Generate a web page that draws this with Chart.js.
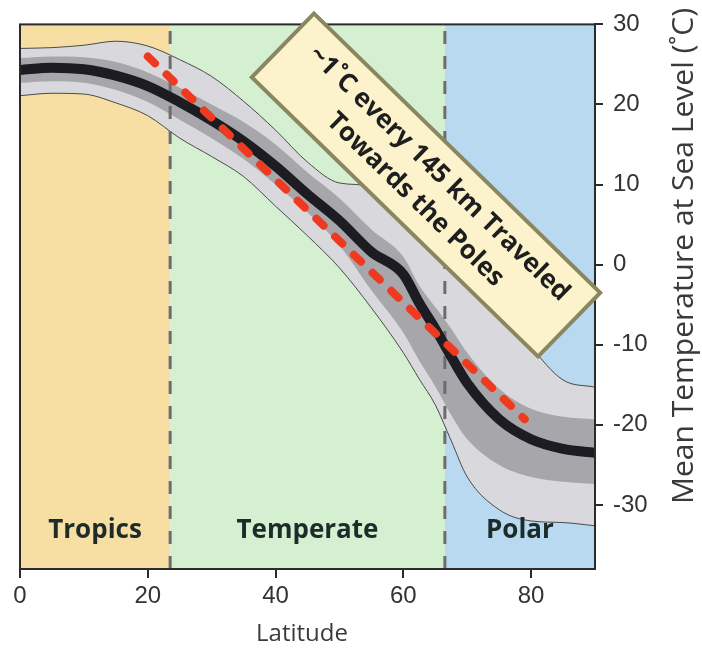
<!DOCTYPE html>
<html><head><meta charset="utf-8">
<script src="https://cdn.jsdelivr.net/npm/chart.js@4"></script>
<style>html,body{margin:0;padding:0;background:#fff}</style>
</head><body>
<canvas id="c" width="702" height="649"></canvas>
<script>
// ---- data ----
const latitudes  = [0, 5, 10, 15, 20, 25, 30, 35, 40, 45, 50, 55, 60, 62.5, 65, 67.5, 70, 75, 80, 85, 90];
const meanTemp   = [24.3, 24.6, 24.4, 23.6, 22.3, 20.3, 18.0, 15.4, 12.3, 8.8, 5.5, 1.6, -1.2, -4.8, -8.0, -11.5, -14.8, -19.3, -21.8, -23.0, -23.5];
const darkUpper  = [25.8, 26.0, 25.9, 25.3, 24.0, 22.1, 20.0, 17.8, 15.0, 11.5, 8.3, 4.4, 1.0, -2.6, -5.3, -8.0, -11.0, -15.5, -18.0, -19.0, -19.3];
const darkLower  = [22.7, 22.9, 22.7, 21.8, 20.3, 18.1, 15.8, 13.2, 10.0, 6.5, 2.4, -3.2, -8.5, -12.0, -15.2, -18.8, -21.8, -25.0, -26.5, -27.1, -27.4];
const lightUpper = [27.0, 27.1, 27.4, 27.9, 27.3, 25.6, 23.5, 20.4, 16.8, 12.8, 10.2, 9.8, 6.8, 4.7, 2.6, 0.5, -1.8, -5.5, -10.3, -14.4, -15.3];
const lightLower = [21.1, 21.4, 21.3, 20.2, 18.6, 15.8, 13.5, 11.0, 7.3, 3.6, -0.4, -5.4, -11.0, -14.3, -17.5, -22.0, -26.5, -30.6, -32.0, -32.2, -32.6];
const trendLat   = [20, 79];
const trendTemp  = [26.0, -19.3];
const zoneEdges  = [0, 23.5, 66.5, 90];
const zoneNames  = ['Tropics', 'Temperate', 'Polar'];
const xTicks     = [0, 20, 40, 60, 80];
const yTicks     = [-30, -20, -10, 0, 10, 20, 30];
const noteLines  = ['~1˚C every 145 km Traveled', 'Towards the Poles'];
const xTitle     = 'Latitude';
const yTitle     = 'Mean Temperature at Sea Level (˚C)';

// ---- styling ----
const zoneColors = ['#f7dea3', '#d4f0d1', '#b9d9f1'];
const zoneLabelTemp = -33.2;
const pts = (xs, ys) => xs.map((x, i) => ({x: x, y: ys[i]}));

const datasets = [
  {data: pts(latitudes, lightUpper), fill: '+1', backgroundColor: '#d9d9dd', borderColor: '#4a4a4a', borderWidth: 1, order: 6},
  {data: pts(latitudes, lightLower), fill: false, borderColor: '#4a4a4a', borderWidth: 1, order: 5},
  {data: pts(latitudes, darkUpper), fill: '+1', backgroundColor: '#a7a7ab', borderWidth: 0, borderColor: 'rgba(0,0,0,0)', order: 4},
  {data: pts(latitudes, darkLower), fill: false, borderWidth: 0, borderColor: 'rgba(0,0,0,0)', order: 4},
];
zoneEdges.slice(1, -1).forEach(e => {
  datasets.push({data: [{x: e, y: -38}, {x: e, y: 30}], borderColor: '#6c6c6c', borderWidth: 3, borderDash: [13, 12], fill: false, order: 3, cubicInterpolationMode: 'default', tension: 0});
});
datasets.push({data: pts(latitudes, meanTemp), borderColor: '#1c1c22', borderWidth: 10, fill: false, order: 2, borderCapStyle: 'butt'});
datasets.push({data: pts(trendLat, trendTemp), borderColor: '#ef3a22', borderWidth: 8, borderDash: [10, 16], borderCapStyle: 'round', fill: false, order: 1, tension: 0, cubicInterpolationMode: 'default'});

const bgPlugin = {
  id: 'zones',
  beforeDatasetsDraw(chart) {
    const {ctx, chartArea: a, scales: {x}} = chart;
    ctx.save();
    for (let i = 0; i < zoneNames.length; i++) {
      const x0 = x.getPixelForValue(zoneEdges[i]), x1 = x.getPixelForValue(zoneEdges[i + 1]);
      ctx.fillStyle = zoneColors[i];
      ctx.fillRect(x0, a.top, x1 - x0, a.bottom - a.top);
    }
    ctx.restore();
  },
  afterDatasetsDraw(chart) {
    const {ctx, chartArea: a, scales: {x, y}} = chart;
    ctx.save();
    ctx.font = 'bold 26px "Open Sans"';
    ctx.fillStyle = '#1d2b2b';
    ctx.textAlign = 'center';
    ctx.textBaseline = 'middle';
    for (let i = 0; i < zoneNames.length; i++) {
      const cx = x.getPixelForValue((zoneEdges[i] + zoneEdges[i + 1]) / 2);
      ctx.fillText(zoneNames[i], cx, y.getPixelForValue(zoneLabelTemp));
    }
    ctx.strokeStyle = '#2b2b2b';
    ctx.lineWidth = 2;
    ctx.strokeRect(a.left, a.top, a.right - a.left, a.bottom - a.top);
    ctx.restore();
  },
  afterDraw(chart) {
    const {ctx} = chart;
    ctx.save();
    ctx.translate(426, 185);
    ctx.rotate(44.3 * Math.PI / 180);
    ctx.fillStyle = '#fcf3cd';
    ctx.strokeStyle = '#8a8660';
    ctx.lineWidth = 4;
    ctx.fillRect(-200, -44.5, 400, 89);
    ctx.strokeRect(-200, -44.5, 400, 89);
    ctx.fillStyle = '#1e1e1e';
    ctx.font = 'bold 26px "Open Sans"';
    ctx.textAlign = 'center';
    ctx.textBaseline = 'middle';
    ctx.fillText(noteLines[0], 1.5, -17);
    ctx.fillText(noteLines[1], 2.5, 18);
    ctx.restore();
    ctx.save();
    ctx.fillStyle = '#3a3a3a';
    ctx.font = '24px "Open Sans"';
    ctx.textAlign = 'center';
    ctx.textBaseline = 'middle';
    ctx.fillText(xTitle, 302, 634);
    ctx.translate(684, 256);
    ctx.rotate(-Math.PI / 2);
    ctx.font = '30px "Open Sans"';
    ctx.fillText(yTitle, 0, 0);
    ctx.restore();
  }
};

new Chart(document.getElementById('c'), {
  type: 'line',
  data: {datasets: datasets},
  plugins: [bgPlugin],
  options: {
    responsive: false,
    animation: false,
    devicePixelRatio: 1,
    layout: {padding: {left: 20, top: 16, right: 0, bottom: 0}},
    elements: {point: {radius: 0}, line: {cubicInterpolationMode: 'monotone'}},
    plugins: {legend: {display: false}, tooltip: {enabled: false}},
    scales: {
      x: {
        type: 'linear', position: 'bottom', min: 0, max: 90,
        afterBuildTicks: s => { s.ticks = xTicks.map(v => ({value: v})); },
        afterFit: s => { s.height = 80; },
        grid: {display: true, drawOnChartArea: false, drawTicks: true, tickLength: 9, color: '#2b2b2b', lineWidth: 2},
        border: {display: true, color: '#2b2b2b', width: 2},
        ticks: {font: {family: '"Liberation Sans"', size: 24}, color: '#333', padding: 4, maxRotation: 0, autoSkip: false}
      },
      y: {
        type: 'linear', position: 'right', min: -38, max: 30,
        afterBuildTicks: s => { s.ticks = yTicks.map(v => ({value: v})); },
        afterFit: s => { s.width = 107; },
        grid: {display: true, drawOnChartArea: false, drawTicks: true, tickLength: 8, color: '#2b2b2b', lineWidth: 2},
        border: {display: true, color: '#2b2b2b', width: 2},
        ticks: {font: {family: '"Liberation Sans"', size: 24}, color: '#333', padding: 10, autoSkip: false}
      }
    }
  }
});
</script>
</body></html>
